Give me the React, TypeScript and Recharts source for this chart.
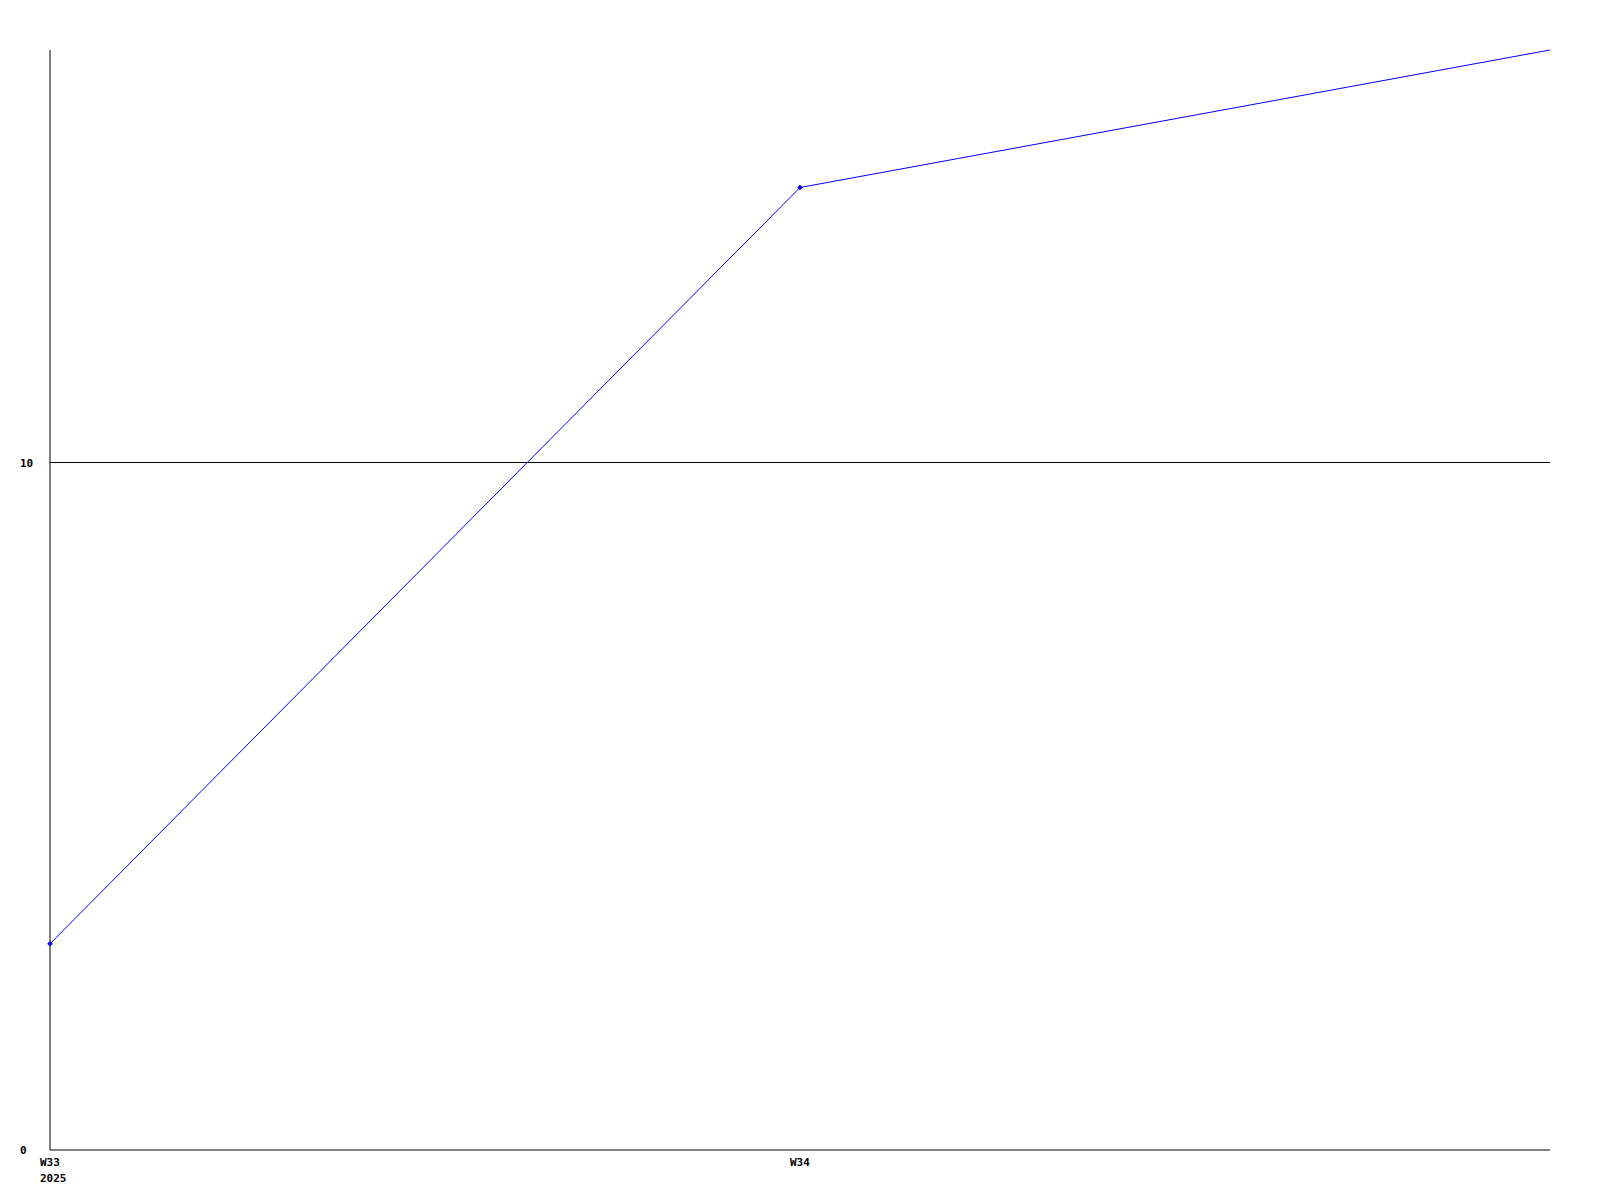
import React from "react";
import { LineChart, Line, XAxis, YAxis, CartesianGrid } from "recharts";

const weeks = ["W33", "W34", "W35"];
const weekLabels = ["W33", "W34", ""];
const yearLabels = ["2025", "", ""];
const values = [3, 14, 16];
const yTicks = [0, 10];

const data = weeks.map((w, i) => ({ week: w, value: values[i] }));

const FONT = "'DejaVu Sans Mono', monospace";

const XTick = (props: any) => {
  const { x, y, index } = props;
  const wl = weekLabels[index];
  const yl = yearLabels[index];
  return (
    <g>
      {wl ? (
        <text x={x - 10} y={y + 14} textAnchor="start" fontFamily={FONT} fontWeight="bold" fontSize={11} fill="#000">
          {wl}
        </text>
      ) : null}
      {yl ? (
        <text x={x - 10} y={y + 30} textAnchor="start" fontFamily={FONT} fontWeight="bold" fontSize={11} fill="#000">
          {yl}
        </text>
      ) : null}
    </g>
  );
};

const YTick = (props: any) => {
  const { y, payload } = props;
  return (
    <text x={20} y={y + 4} textAnchor="start" fontFamily={FONT} fontWeight="bold" fontSize={11} fill="#000">
      {payload.value}
    </text>
  );
};

const Dot = (props: any) => {
  const { cx, cy, index } = props;
  if (index === values.length - 1 || cx == null) return <g key={`d${index}`} />;
  return (
    <path
      key={`d${index}`}
      d={`M${cx - 2.5},${cy} L${cx},${cy - 2.5} L${cx + 2.5},${cy} L${cx},${cy + 2.5} Z`}
      fill="#0000ff"
      stroke="#0000ff"
      strokeWidth={0.5}
    />
  );
};

export default function App() {
  return (
    <div style={{ position: "absolute", left: 0, top: 0, background: "#fff" }}>
      <LineChart width={1600} height={1200} data={data} margin={{ top: 50, right: 50, bottom: 0, left: 0 }}>
        <CartesianGrid vertical={false} stroke="#000" strokeWidth={1} horizontalValues={[10]} />
        <XAxis
          dataKey="week"
          type="category"
          height={50}
          axisLine={{ stroke: "#000", strokeWidth: 1 }}
          tickLine={false}
          tickSize={0}
          tick={<XTick />}
          interval={0}
        />
        <YAxis
          width={50}
          domain={[0, 16]}
          ticks={yTicks}
          axisLine={{ stroke: "#000", strokeWidth: 1 }}
          tickLine={false}
          tickSize={0}
          tick={<YTick />}
        />
        <Line
          dataKey="value"
          stroke="#0000ff"
          strokeWidth={1}
          dot={<Dot />}
          activeDot={false}
          isAnimationActive={false}
          type="linear"
        />
      </LineChart>
    </div>
  );
}
